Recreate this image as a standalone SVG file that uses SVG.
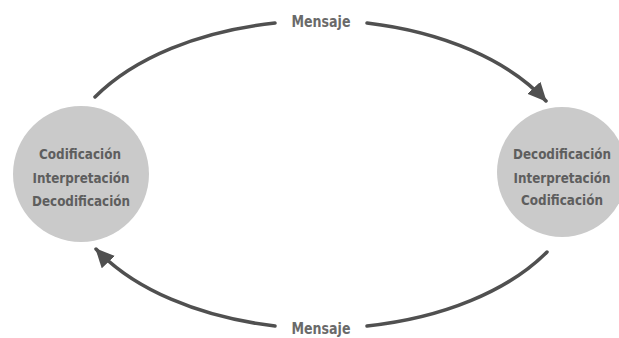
<svg xmlns="http://www.w3.org/2000/svg" width="619" height="338" viewBox="0 0 619 338">
<style>
.node{fill:#cacaca;}
.t{font-family:"DejaVu Sans Condensed","Liberation Sans Narrow","Liberation Sans",sans-serif;font-weight:bold;font-size:14.5px;fill:#5e5e5e;text-anchor:middle;}
.lbl{font-family:"DejaVu Sans Condensed","Liberation Sans",sans-serif;font-weight:bold;font-size:15px;fill:#6a6a6a;text-anchor:middle;}
.arc{fill:none;stroke:#505050;stroke-width:3.5;stroke-linecap:round;}
</style>
<defs>
<marker id="ah" markerUnits="userSpaceOnUse" markerWidth="20" markerHeight="20" viewBox="0 0 20 20" refX="18" refY="10" orient="auto">
<path d="M0,1 L19,10 L0,19 z" fill="#505050"/>
</marker>
</defs>
<rect width="619" height="338" fill="#ffffff"/>
<g id="left">
<circle class="node" cx="81" cy="174" r="68"/>
<text class="t" x="80" y="159" textLength="82" lengthAdjust="spacingAndGlyphs">Codificación</text>
<text class="t" x="81" y="183" textLength="97" lengthAdjust="spacingAndGlyphs">Interpretación</text>
<text class="t" x="81" y="206" textLength="98" lengthAdjust="spacingAndGlyphs">Decodificación</text>
</g>
<g id="right">
<circle class="node" cx="562" cy="172" r="65"/>
<text class="t" x="562" y="159" textLength="98" lengthAdjust="spacingAndGlyphs">Decodificación</text>
<text class="t" x="562" y="183" textLength="97" lengthAdjust="spacingAndGlyphs">Interpretación</text>
<text class="t" x="562" y="205" textLength="82" lengthAdjust="spacingAndGlyphs">Codificación</text>
</g>
<g id="connectors">
<path class="arc" d="M95,97 A262,155 0 0,1 275,23"/>
<path class="arc" d="M367,23 A262,155 0 0,1 546,101" marker-end="url(#ah)"/>
<path class="arc" d="M275,326 A262,155 0 0,1 96,249" marker-end="url(#ah)"/>
<path class="arc" d="M367,326 A262,155 0 0,0 547,252"/>
<text class="lbl" x="321" y="27" textLength="59" lengthAdjust="spacingAndGlyphs">Mensaje</text>
<text class="lbl" x="321" y="334" textLength="59" lengthAdjust="spacingAndGlyphs">Mensaje</text>
</g>
</svg>
